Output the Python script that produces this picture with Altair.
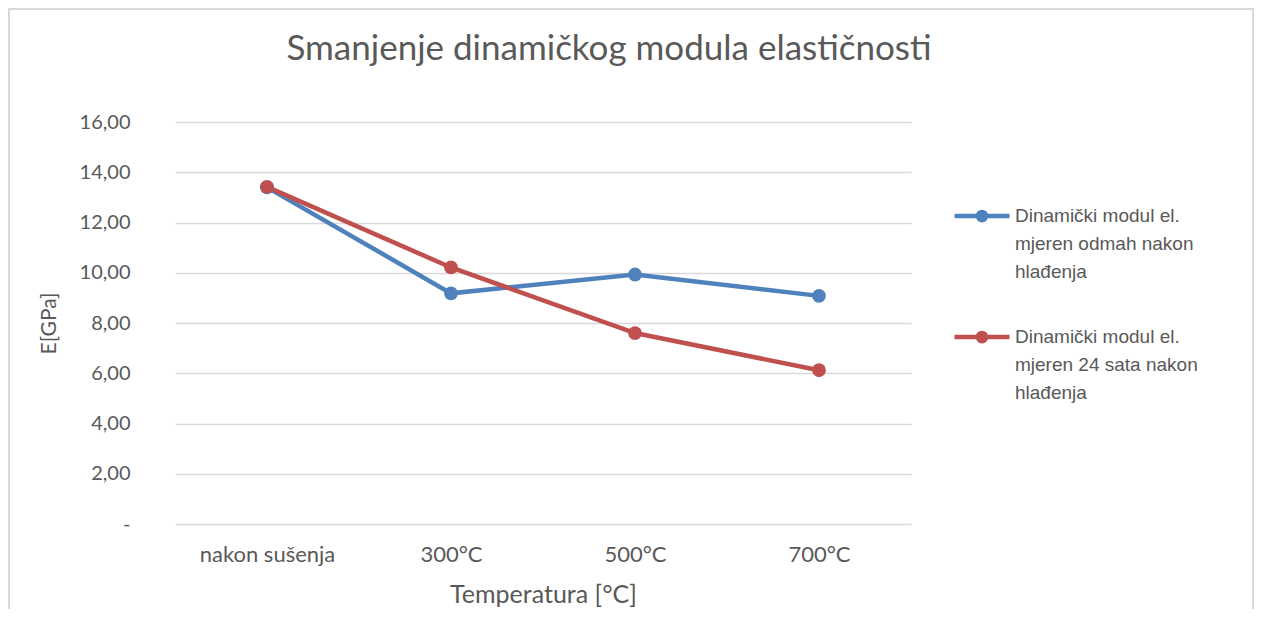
import altair as alt
import pandas as pd

categories = ["nakon sušenja", "300°C", "500°C", "700°C"]
series_names = [
    "Dinamički modul el.|mjeren odmah nakon|hlađenja",
    "Dinamički modul el.|mjeren 24 sata nakon|hlađenja",
]
odmah_values = [13.40, 9.18, 9.93, 9.08]
sata24_values = [13.42, 10.21, 7.60, 6.12]
series_colors = ["#4F81BD", "#C0504D"]
y_tick_values = [0, 2, 4, 6, 8, 10, 12, 14, 16]

rows = []
for name, vals in zip(series_names, [odmah_values, sata24_values]):
    for c, v in zip(categories, vals):
        rows.append({"kategorija": c, "serija": name, "E": v})
df = pd.DataFrame(rows)

TXT = "#595959"
GRID = "#d9d9d9"

symbol_path = (
    "M-1,0L1,0"
    "M-0.15,0A0.15,0.15,0,1,0,0.15,0A0.15,0.15,0,1,0,-0.15,0"
    "M-0.06,0A0.06,0.06,0,1,0,0.06,0A0.06,0.06,0,1,0,-0.06,0"
)

legend = alt.Legend(
    title=None,
    orient="none",
    legendX=777,
    legendY=64,
    labelExpr="split(datum.label, '|')",
    symbolType=symbol_path,
    symbolSize=3025,
    symbolStrokeWidth=4.5,
    labelFont="Liberation Sans",
    labelFontSize=19,
    labelColor=TXT,
    labelLimit=400,
    labelOffset=3,
    rowPadding=25,
    padding=0,
)

color = alt.Color(
    "serija:N",
    scale=alt.Scale(domain=series_names, range=series_colors),
    legend=legend,
)

x = alt.X(
    "kategorija:N",
    sort=categories,
    scale=alt.Scale(type="point", padding=0.5),
    axis=alt.Axis(
        labelAngle=0,
        domain=False,
        ticks=False,
        grid=False,
        labelPadding=20,
        labelFont="Lato",
        labelFontSize=22,
        labelColor=TXT,
        title="Temperatura [°C]",
        titleFont="Lato",
        titleFontSize=25,
        titleFontWeight="normal",
        titleColor=TXT,
        titleX=368,
        titleY=70,
        titleAlign="center",
        titleBaseline="middle",
    ),
)

y_label_expr = "datum.value == 0 ? '-\u00a0\u00a0\u00a0' : replace(format(datum.value, '.2f'), '.', ',')"

y = alt.Y(
    "E:Q",
    scale=alt.Scale(domain=[0, 16], nice=False, zero=True),
    axis=alt.Axis(
        values=y_tick_values,
        labelExpr=y_label_expr,
        grid=True,
        gridColor=GRID,
        gridWidth=1.3,
        domain=False,
        ticks=False,
        labelPadding=45,
        labelFont="Lato",
        labelFontSize=20,
        labelColor=TXT,
        title="E[GPa]",
        titleFont="Lato",
        titleFontSize=21,
        titleFontWeight="normal",
        titleColor=TXT,
        titleAngle=270,
        titleX=-126,
        titleY=201,
        titleAlign="center",
        titleBaseline="middle",
    ),
)

base = alt.Chart(df)

blue_line = base.transform_filter(alt.datum.serija == series_names[0]).mark_line(
    strokeWidth=4.5
).encode(x=x, y=y, color=color)
red_line = base.transform_filter(alt.datum.serija == series_names[1]).mark_line(
    strokeWidth=4.5
).encode(x=x, y=y, color=color)
points = base.mark_circle(size=190, opacity=1).encode(x=x, y=y, color=color)

border = alt.Chart(alt.Data(values=[{}])).mark_rect(
    fill="transparent", stroke=GRID, strokeWidth=2
).encode(
    x=alt.value(-166),
    x2=alt.value(1078),
    y=alt.value(-113),
    y2=alt.value(700),
)

chart = alt.layer(border, blue_line, red_line, points).properties(
    width=736,
    height=402,
    autosize=alt.AutoSizeParams(type="none"),
    padding={"left": 167, "top": 114, "right": 343, "bottom": 85},
    title=alt.TitleParams(
        "Smanjenje dinamičkog modula elastičnosti",
        font="Lato",
        fontSize=35,
        fontWeight="normal",
        color=TXT,
        anchor="middle",
        baseline="middle",
        offset=0,
        dx=66,
        dy=76,
    ),
).configure(
    style={"guide-label": {"lineHeight": 28}},
    view=alt.ViewConfig(stroke="transparent"),
)

chart.save("out.html", embed_options={"renderer": "svg", "actions": False})
